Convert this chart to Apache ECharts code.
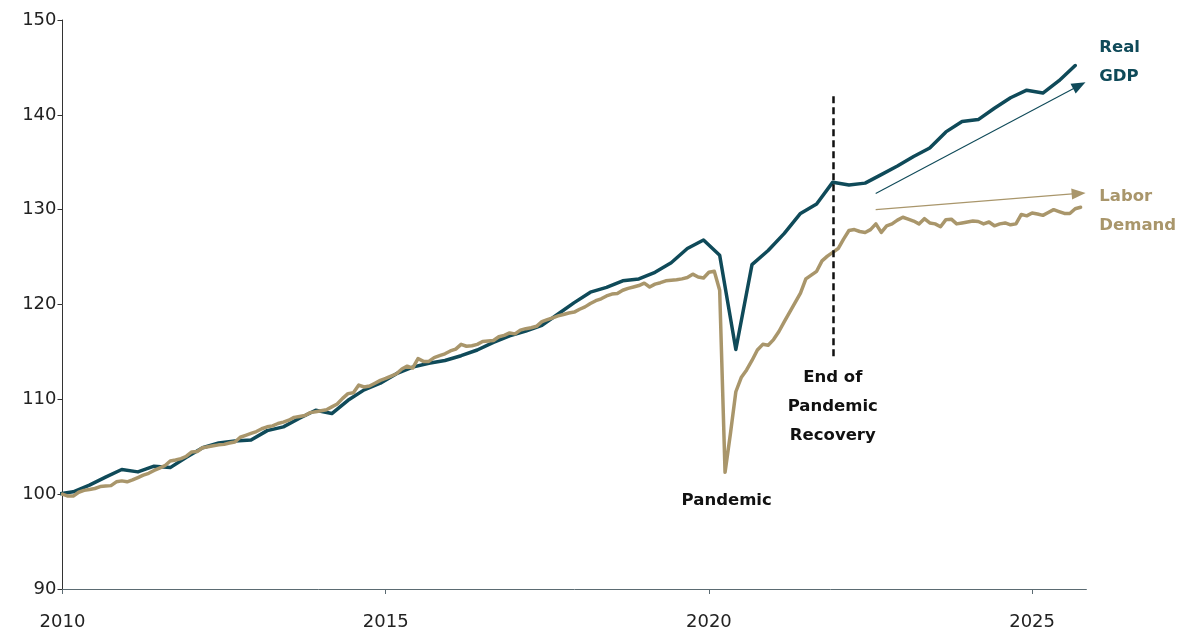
<!DOCTYPE html>
<html>
<head>
<meta charset="utf-8">
<script src="https://cdn.jsdelivr.net/npm/echarts@6/dist/echarts.min.js"></script>
<style>
  html, body { margin: 0; padding: 0; background: #ffffff; }
  #chart { width: 1180px; height: 633px; }
</style>
</head>
<body>
<div id="chart"></div>
<script>
// Axis tick labels
const yearTicks = [2010, 2015, 2020, 2025];
const indexMin = 90;
const indexMax = 150;
const indexStep = 10;

// Real GDP, quarterly index (2009 Q4 = 100), 2009 Q4 .. 2025 Q3
const realGdp = [
  100.0,
  100.25, 100.95, 101.8, 102.6,
  102.35, 102.95, 102.8, 103.9,
  104.9, 105.4, 105.6, 105.7,
  106.7, 107.1, 108.0, 108.85,
  108.5, 109.9, 111.0, 111.7,
  112.7, 113.4, 113.8, 114.1,
  114.6, 115.2, 116.0, 116.7,
  117.2, 117.8, 119.0, 120.2,
  121.3, 121.8, 122.5, 122.7,
  123.4, 124.4, 125.9, 126.8,
  125.2, 115.25, 124.2, 125.7,
  127.5, 129.6, 130.6, 132.9,
  132.6, 132.8, 133.7, 134.6,
  135.6, 136.5, 138.2, 139.3,
  139.5, 140.7, 141.8, 142.6,
  142.3, 143.6, 145.2
];

// Labor demand, monthly index (Jan 2010 = 100), Jan 2010 .. Oct 2025
const laborDemand = [
  100.0, 99.8, 99.8, 100.2, 100.4, 100.5, 100.6, 100.8, 100.85, 100.9, 101.3, 101.4,
  101.3, 101.5, 101.75, 102.0, 102.2, 102.5, 102.75, 103.0, 103.5, 103.6, 103.75, 104.0,
  104.45, 104.5, 104.9, 105.0, 105.1, 105.2, 105.25, 105.4, 105.5, 106.0, 106.2, 106.4,
  106.6, 106.9, 107.1, 107.2, 107.45, 107.6, 107.8, 108.1, 108.2, 108.3, 108.6, 108.7,
  108.8, 108.9, 109.2, 109.5, 110.1, 110.6, 110.7, 111.5, 111.3, 111.4, 111.7, 112.0,
  112.2, 112.45, 112.7, 113.2, 113.5, 113.3, 114.3, 114.0, 114.0, 114.4, 114.6, 114.8,
  115.1, 115.3, 115.8, 115.6, 115.65, 115.8, 116.1, 116.15, 116.2, 116.6, 116.75, 117.0,
  116.9, 117.3, 117.45, 117.55, 117.7, 118.2, 118.4, 118.6, 118.8, 118.95, 119.1, 119.2,
  119.5, 119.75, 120.1, 120.4, 120.6, 120.9, 121.1, 121.15, 121.5, 121.7, 121.85, 122.0,
  122.25, 121.85, 122.15, 122.3, 122.5, 122.55, 122.6, 122.7, 122.85, 123.2, 122.9, 122.8,
  123.4, 123.5, 121.5, 102.3, 106.4, 110.8, 112.3, 113.1, 114.1, 115.2, 115.8, 115.7,
  116.3, 117.15, 118.2, 119.2, 120.2, 121.2, 122.7, 123.1, 123.5, 124.6, 125.1, 125.5,
  125.9, 126.9, 127.8, 127.9, 127.7, 127.6, 127.9, 128.5, 127.6, 128.3, 128.5, 128.9,
  129.2, 129.0, 128.8, 128.5, 129.05, 128.6, 128.5, 128.2, 128.95, 129.0, 128.5, 128.6,
  128.7, 128.8, 128.75, 128.5, 128.7, 128.3, 128.5, 128.6, 128.4, 128.5, 129.5, 129.35,
  129.65, 129.55, 129.4, 129.7, 130.0, 129.8, 129.6, 129.6, 130.1, 130.25
];

// Date of the "End of Pandemic Recovery" marker (Dec 2021)
const recoveryEnd = 2021 + 11 / 12;

const GDP_COLOR = '#0f4a59';
const LABOR_COLOR = '#a9966b';
const TEXT_COLOR = '#111111';
const FONT = 'DejaVu Sans';

// Quarterly values are placed at the first day of the quarter's last month
const gdpPoints = realGdp.map((v, i) => [2009 + 11 / 12 + i * 0.25, v]);
const laborPoints = laborDemand.map((v, i) => [2010 + i / 12, v]);

const chart = echarts.init(document.getElementById('chart'), null, { renderer: 'canvas' });

const option = {
  animation: false,
  backgroundColor: '#ffffff',
  grid: { left: 62.5, right: 93.6, top: 20, bottom: 44 },
  xAxis: {
    type: 'value',
    min: 2010,
    max: 2025.84,
    axisLine: { show: true, lineStyle: { color: '#5b6b72', width: 1 } },
    axisTick: { show: true, length: 5, customValues: yearTicks, lineStyle: { color: '#5b6b72' } },
    axisLabel: {
      customValues: yearTicks,
      formatter: v => String(Math.round(v)),
      color: '#222222', fontFamily: FONT, fontSize: 18, margin: 24
    },
    splitLine: { show: false }
  },
  yAxis: {
    type: 'value',
    min: indexMin,
    max: indexMax,
    interval: indexStep,
    axisLine: { show: true, lineStyle: { color: '#333333', width: 1 } },
    axisTick: { show: true, length: 5, lineStyle: { color: '#333333' } },
    axisLabel: { color: '#222222', fontFamily: FONT, fontSize: 18, margin: 6 },
    splitLine: { show: false }
  },
  series: [
    {
      name: 'Real GDP',
      type: 'line',
      data: gdpPoints,
      showSymbol: false,
      symbol: 'none',
      clip: true,
      lineStyle: { color: GDP_COLOR, width: 3.5, join: 'round', cap: 'round' },
      z: 2,
      markLine: {
        silent: true,
        animation: false,
        symbol: 'none',
        label: { show: false },
        z: 6,
        data: [
          [
            { coord: [recoveryEnd, 141.95], lineStyle: { color: '#111111', width: 2.5, type: [7, 4] } },
            { coord: [recoveryEnd, 114.45] }
          ],
          [
            { coord: [2022.58, 131.71], symbol: 'none', lineStyle: { color: GDP_COLOR, width: 1.1, type: 'solid' } },
            { coord: [2025.73, 143.1], symbol: 'triangle', symbolSize: [11, 14] }
          ]
        ]
      }
    },
    {
      name: 'Labor Demand',
      type: 'line',
      data: laborPoints,
      showSymbol: false,
      symbol: 'none',
      clip: true,
      lineStyle: { color: LABOR_COLOR, width: 3.5, join: 'round', cap: 'round' },
      z: 3,
      markLine: {
        silent: true,
        animation: false,
        symbol: 'none',
        label: { show: false },
        z: 6,
        data: [
          [
            { coord: [2022.58, 130.0], symbol: 'none', lineStyle: { color: LABOR_COLOR, width: 1.3, type: 'solid' } },
            { coord: [2025.72, 131.71], symbol: 'triangle', symbolSize: [11, 14] }
          ]
        ]
      }
    }
  ]
};

chart.setOption(option);

// Text annotations anchored in data space
const notes = [
  { text: 'End of\nPandemic\nRecovery', at: [recoveryEnd, 109.17], align: 'center', color: TEXT_COLOR },
  { text: 'Pandemic', at: [2020.275, 99.26], align: 'center', color: TEXT_COLOR },
  { text: 'Real\nGDP', at: [2026.04, 145.5], align: 'left', color: GDP_COLOR },
  { text: 'Labor\nDemand', at: [2026.04, 129.79], align: 'left', color: LABOR_COLOR }
];

const graphics = notes.map(n => {
  const p = chart.convertToPixel({ seriesIndex: 0 }, n.at);
  return {
    type: 'text',
    x: p[0],
    y: p[1],
    silent: true,
    z: 10,
    style: {
      text: n.text,
      fill: n.color,
      font: 'bold 16.5px "' + FONT + '"',
      textAlign: n.align,
      textVerticalAlign: 'middle',
      lineHeight: 29
    }
  };
});

chart.setOption({ graphic: graphics });
</script>
</body>
</html>
